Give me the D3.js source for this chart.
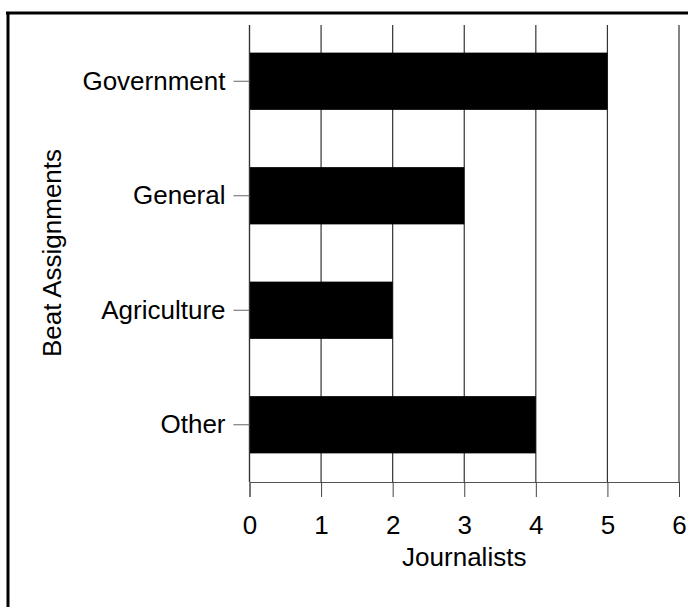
<!DOCTYPE html>
<html>
<head>
<meta charset="utf-8">
<script src="https://cdn.jsdelivr.net/npm/d3@7"></script>
<style>
  html, body { margin: 0; padding: 0; background: #fff; }
  svg { display: block; }
  text { font-family: "Liberation Sans", Arial, sans-serif; fill: #000; }
</style>
</head>
<body>
<svg id="chart" width="688" height="607"></svg>
<script>
const categories = ["Government", "General", "Agriculture", "Other"];
const journalists = [5, 3, 2, 4];
const xTicks = [0, 1, 2, 3, 4, 5, 6];
const xTitle = "Journalists";
const yTitle = "Beat Assignments";

const svg = d3.select("#chart");
const W = 688, H = 607;
const FS = "26px";

// frame (top and left edges visible)
svg.append("line").attr("x1", 6).attr("x2", W).attr("y1", 13).attr("y2", 13)
  .attr("stroke", "#000").attr("stroke-width", 3);
svg.append("line").attr("x1", 8).attr("x2", 8).attr("y1", 12).attr("y2", H)
  .attr("stroke", "#000").attr("stroke-width", 3);

const x = d3.scaleLinear().domain([0, 6]).range([249.5, 679]);
const y = d3.scaleBand().domain(categories).range([24, 482]).paddingInner(0.5).paddingOuter(0.25);

// vertical grid lines
svg.append("g").selectAll("line").data(xTicks).join("line")
  .attr("x1", d => x(d)).attr("x2", d => x(d))
  .attr("y1", 25).attr("y2", 482)
  .attr("stroke", "#333").attr("stroke-width", 1.2);

// bars
svg.append("g").selectAll("rect").data(categories).join("rect")
  .attr("x", x(0))
  .attr("y", d => y(d))
  .attr("width", (d, i) => x(journalists[i]) - x(0))
  .attr("height", y.bandwidth())
  .attr("fill", "#000");

// x axis
const xAxis = svg.append("g").attr("transform", "translate(0,482)")
  .call(d3.axisBottom(x).tickValues(xTicks).tickFormat(d3.format("d")).tickSize(15));
xAxis.select(".domain").attr("stroke", "#555").attr("stroke-width", 1);
xAxis.selectAll(".tick line").attr("stroke", "#444").attr("stroke-width", 1);
xAxis.selectAll(".tick text").style("font-size", FS).attr("fill", "#000")
  .style("font-family", "'Liberation Sans', Arial, sans-serif")
  .attr("y", 52).attr("dy", 0);

// y axis
const yAxis = svg.append("g").attr("transform", `translate(${x(0)},0)`)
  .call(d3.axisLeft(y).tickSize(16).tickPadding(8));
yAxis.select(".domain").attr("stroke", "#333").attr("stroke-width", 1.2)
  .attr("d", `M0,25V482`);
yAxis.selectAll(".tick line").attr("stroke", "#666").attr("stroke-width", 1);
yAxis.selectAll(".tick text").style("font-size", FS).attr("fill", "#000")
  .style("font-family", "'Liberation Sans', Arial, sans-serif");

// titles
svg.append("text").attr("x", (x(0) + x(6)) / 2).attr("y", 566)
  .attr("text-anchor", "middle").style("font-size", FS).text(xTitle);
svg.append("text")
  .attr("transform", `translate(61,${(24 + 482) / 2}) rotate(-90)`)
  .attr("text-anchor", "middle").style("font-size", FS).text(yTitle);
</script>
</body>
</html>
